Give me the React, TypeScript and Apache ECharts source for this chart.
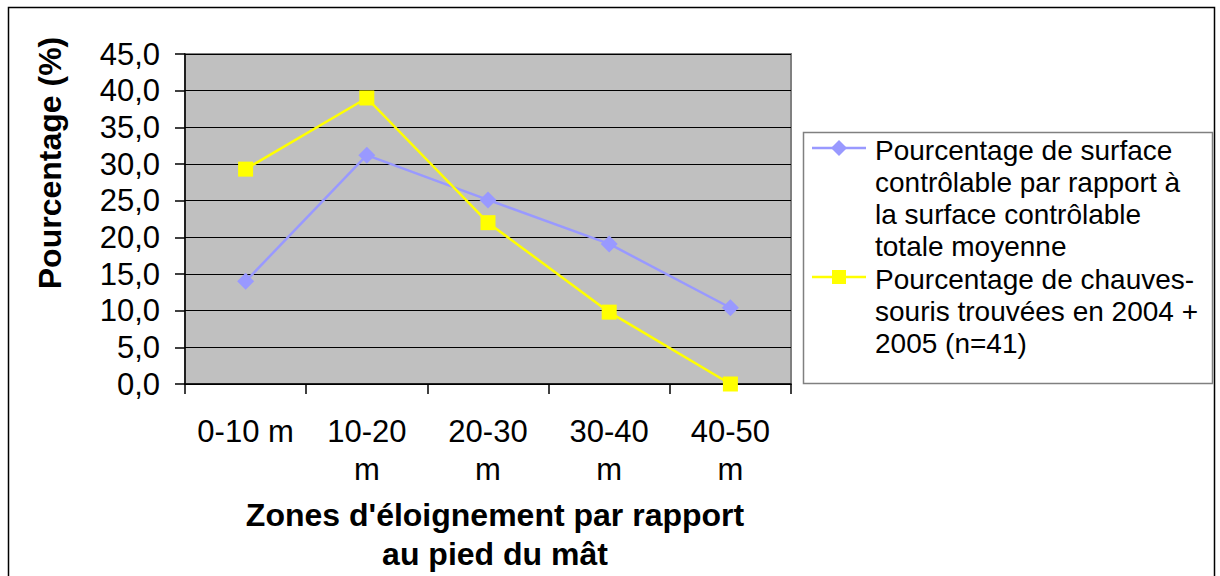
import React, { useEffect, useRef } from "react";
import * as echarts from "echarts";

const categories = ["0-10 m", "10-20 m", "20-30 m", "30-40 m", "40-50 m"];
const surfaceValues = [14.0, 31.2, 25.1, 19.1, 10.4];
const batValues = [29.3, 39.0, 22.0, 9.8, 0.0];
const legendLines = [
  ["Pourcentage de surface", "contrôlable par rapport à", "la surface contrôlable", "totale moyenne"],
  ["Pourcentage de chauves-", "souris trouvées en 2004 +", "2005 (n=41)"],
];
const seriesNames = legendLines.map((lines) =>
  lines.reduce((acc, l) => (acc === "" ? l : acc.endsWith("-") ? acc + l : acc + " " + l), "")
);
const seriesColors = ["#9999FF", "#FFFF00"];
const yTitle = "Pourcentage (%)";
const xTitle = "Zones d'éloignement par rapport\nau pied du mât";

const FONT = "'Liberation Sans', Arial, sans-serif";

export default function App() {
  const ref = useRef<HTMLDivElement>(null);
  useEffect(() => {
    document.body.style.margin = "0";
    const chart = echarts.init(ref.current!, null, { renderer: "svg" });
    const legendX = 803;
    const legendY = 132;
    const iconY = [148, 277];
    const textTop = [134, 263];
    const graphic: any[] = [
      {
        type: "rect",
        shape: { x: 8.5, y: 7.5, width: 1206, height: 620 },
        style: { fill: "none", stroke: "#000", lineWidth: 1.5 },
        silent: true,
      },
      {
        type: "rect",
        shape: { x: legendX + 0.5, y: legendY + 0.5, width: 409, height: 251 },
        style: { fill: "#fff", stroke: "#808080", lineWidth: 1.5 },
        silent: true,
      },
      {
        type: "text",
        x: 50,
        y: 163,
        rotation: Math.PI / 2,
        style: {
          text: yTitle,
          font: `bold 32px ${FONT}`,
          fill: "#000",
          align: "center",
          verticalAlign: "middle",
        },
      },
      {
        type: "text",
        x: 495,
        y: 534,
        style: {
          text: xTitle,
          font: `bold 32px ${FONT}`,
          fill: "#000",
          align: "center",
          verticalAlign: "middle",
          lineHeight: 39,
        },
      },
    ];
    legendLines.forEach((lines, i) => {
      const cy = iconY[i];
      graphic.push({
        type: "line",
        shape: { x1: 812, y1: cy, x2: 866, y2: cy },
        style: { stroke: seriesColors[i], lineWidth: 2.5 },
      });
      if (i === 0) {
        graphic.push({
          type: "polygon",
          shape: { points: [[839, cy - 8], [847, cy], [839, cy + 8], [831, cy]] },
          style: { fill: seriesColors[i] },
        });
      } else {
        graphic.push({
          type: "rect",
          shape: { x: 832, y: cy - 7, width: 14, height: 14 },
          style: { fill: seriesColors[i] },
        });
      }
      graphic.push({
        type: "text",
        x: 875,
        y: textTop[i],
        style: {
          text: lines.join("\n"),
          font: `28px ${FONT}`,
          fill: "#000",
          align: "left",
          verticalAlign: "top",
          lineHeight: 32,
        },
      });
    });

    chart.setOption({
      animation: false,
      backgroundColor: "#fff",
      textStyle: { fontFamily: FONT },
      grid: {
        left: 185,
        top: 54,
        right: 1220 - 791,
        bottom: 576 - 384,
        show: true,
        backgroundColor: "#C0C0C0",
        borderColor: "#808080",
        borderWidth: 2,
      },
      xAxis: {
        type: "category",
        data: categories,
        boundaryGap: true,
        axisLine: { show: true, lineStyle: { color: "#000", width: 1.5 } },
        axisTick: { show: true, length: 10, alignWithLabel: false, lineStyle: { color: "#000", width: 1.5 } },
        axisLabel: {
          color: "#000",
          fontSize: 31,
          fontFamily: FONT,
          lineHeight: 38,
          margin: 28,
          interval: 0,
          formatter: (v: string, i: number) => (i === 0 ? v : v.replace(" ", "\n")),
        },
        splitLine: { show: false },
      },
      yAxis: {
        type: "value",
        min: 0,
        max: 45,
        interval: 5,
        axisLine: { show: true, lineStyle: { color: "#000", width: 1.5 } },
        axisTick: { show: true, length: 10, lineStyle: { color: "#000", width: 1.5 } },
        axisLabel: {
          color: "#000",
          fontSize: 31,
          fontFamily: FONT,
          margin: 25,
          formatter: (v: number) => v.toFixed(1).replace(".", ","),
        },
        splitLine: { show: true, lineStyle: { color: "#000", width: 1.2 } },
      },
      series: [
        {
          name: seriesNames[0],
          type: "line",
          data: surfaceValues,
          symbol: "diamond",
          symbolSize: 17,
          lineStyle: { color: seriesColors[0], width: 2.5 },
          itemStyle: { color: seriesColors[0] },
        },
        {
          name: seriesNames[1],
          type: "line",
          data: batValues,
          symbol: "rect",
          symbolSize: 15,
          lineStyle: { color: seriesColors[1], width: 2.5 },
          itemStyle: { color: seriesColors[1] },
        },
      ],
      graphic,
    });
    return () => chart.dispose();
  }, []);
  return <div ref={ref} style={{ width: 1220, height: 576 }} />;
}
